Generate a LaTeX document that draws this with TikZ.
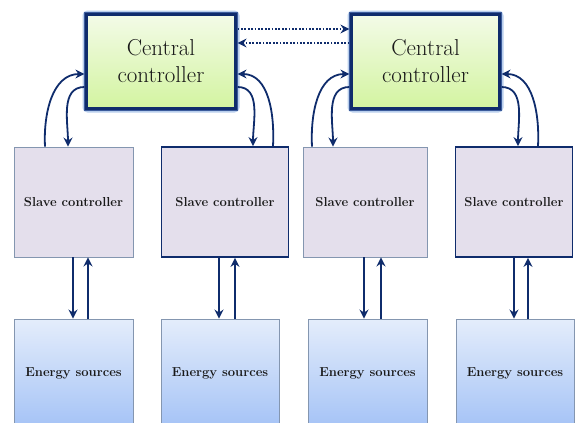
\documentclass[tikz,border=0pt]{standalone}
\usepackage{tikz}
\usetikzlibrary{arrows.meta}
\definecolor{navy}{HTML}{0F2C6C}
\definecolor{thinb}{HTML}{8496B0}
\definecolor{slavefill}{HTML}{E4DFEC}
\definecolor{ccTop}{HTML}{F3FBE8}
\definecolor{ccBot}{HTML}{D3F4A0}
\definecolor{enTop}{HTML}{E4EDFB}
\definecolor{enBot}{HTML}{A5C3F6}
\definecolor{glow}{HTML}{B9CEEC}
\definecolor{midb}{HTML}{3C5C9C}
\tikzset{
  ccbox/.style={draw=navy, line width=3.2pt, top color=ccTop, bottom color=ccBot,
    minimum width=150pt, minimum height=95pt, inner sep=0pt, align=center,
    font=\fontsize{23}{27}\selectfont, text=black!90},
  slavebox/.style={draw=thinb, line width=0.9pt, fill=slavefill,
    minimum height=110pt, inner sep=0pt, font=\fontsize{13}{15}\selectfont\bfseries, text=black!90},
  slavethick/.style={slavebox, draw=navy, line width=1.8pt},
  enbox/.style={draw=thinb, line width=0.9pt, top color=enTop, bottom color=enBot,
    minimum height=108pt, inner sep=0pt, font=\fontsize{13}{15}\selectfont\bfseries, text=black!90},
  link/.style={draw=navy, line width=1.8pt, -{Stealth[length=9pt,width=9pt,inset=3pt]}},
  dotlink/.style={draw=navy, line width=1.8pt, dash pattern=on 1.8pt off 1.6pt,
    -{Stealth[length=9pt,width=9pt,inset=3pt]}}
}
\begin{document}
\begin{tikzpicture}[x=1pt,y=-1pt]
\useasboundingbox (0,0) rectangle (576,423);
\clip (0,0) rectangle (576,423);
% glow behind central controllers
\draw[glow, line width=7pt, rounded corners=2pt] (86,14) rectangle (236,109);
\draw[glow, line width=7pt, rounded corners=2pt] (351,14) rectangle (500,109);
% central controllers
\node[ccbox] (cc1) at (161,61.5) {Central\\controller};
\node[ccbox, minimum width=149pt] (cc2) at (425.5,61.5) {Central\\controller};
\draw[midb, line width=0.8pt] (cc1.south west) rectangle (cc1.north east);
\draw[midb, line width=0.8pt] (cc2.south west) rectangle (cc2.north east);
% slave controllers
\node[slavebox, minimum width=119pt] (s1) at (73.5,202) {Slave controller};
\node[slavethick, minimum width=127pt] (s2) at (225,202) {Slave controller};
\node[slavebox, minimum width=124pt] (s3) at (365,202) {Slave controller};
\node[slavethick, minimum width=117pt] (s4) at (514,202) {Slave controller};
% energy sources
\node[enbox, minimum width=119pt] (e1) at (73.5,373) {Energy sources};
\node[enbox, minimum width=118pt] (e2) at (220,373) {Energy sources};
\node[enbox, minimum width=119pt] (e3) at (367.5,373) {Energy sources};
\node[enbox, minimum width=118pt] (e4) at (515,373) {Energy sources};
% dotted links between central controllers
\draw[dotlink] ([yshift=32.5pt]cc1.east) -- ([yshift=32.5pt]cc2.west);
\draw[dotlink] ([yshift=18.5pt]cc2.west) -- ([yshift=18.5pt]cc1.east);
% central 1 <-> slaves 1,2
\draw[link] ([xshift=-28.5pt]s1.north) to[out=93,in=180] ([yshift=-12.5pt]cc1.west);
\draw[link] ([yshift=-25.5pt]cc1.west) to[out=180,in=90] ([xshift=-5.5pt]s1.north);
\draw[link] ([yshift=-25.5pt]cc1.east) to[out=0,in=90] ([xshift=28pt]s2.north);
\draw[link] ([xshift=48pt]s2.north) to[out=87,in=0] ([yshift=-12.5pt]cc1.east);
% central 2 <-> slaves 3,4
\draw[link] ([xshift=-53pt]s3.north) to[out=93,in=180] ([yshift=-12.5pt]cc2.west);
\draw[link] ([yshift=-25.5pt]cc2.west) to[out=180,in=90] ([xshift=-32pt]s3.north);
\draw[link] ([yshift=-25.5pt]cc2.east) to[out=0,in=90] ([xshift=4pt]s4.north);
\draw[link] ([xshift=24pt]s4.north) to[out=87,in=0] ([yshift=-12.5pt]cc2.east);
% slave <-> energy
\draw[link] ([xshift=-0.5pt]s1.south) -- ([xshift=-0.5pt]e1.north);
\draw[link] ([xshift=14.5pt]e1.north) -- ([xshift=14.5pt]s1.south);
\draw[link] ([xshift=-6pt]s2.south) -- ([xshift=-1pt]e2.north);
\draw[link] ([xshift=15pt]e2.north) -- ([xshift=10pt]s2.south);
\draw[link] ([xshift=-1pt]s3.south) -- ([xshift=-3.5pt]e3.north);
\draw[link] ([xshift=13.5pt]e3.north) -- ([xshift=16pt]s3.south);
\draw[link] ([xshift=0pt]s4.south) -- ([xshift=-1pt]e4.north);
\draw[link] ([xshift=13pt]e4.north) -- ([xshift=14pt]s4.south);
\end{tikzpicture}
\end{document}
